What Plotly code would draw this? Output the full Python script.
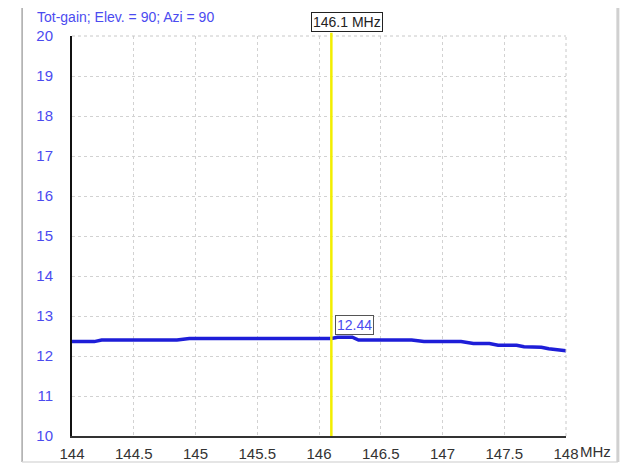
import plotly.graph_objects as go

# Data
freq_mhz = [144.0, 144.18, 144.24, 144.85, 144.95, 146.1, 146.15, 146.27, 146.32,
            146.75, 146.85, 147.15, 147.25, 147.38, 147.45, 147.6, 147.66, 147.8, 147.86, 148.0]
gain_db = [12.36, 12.36, 12.40, 12.40, 12.44, 12.44, 12.47, 12.47, 12.40,
           12.40, 12.36, 12.36, 12.31, 12.31, 12.27, 12.27, 12.23, 12.22, 12.18, 12.13]
x_ticks = [144, 144.5, 145, 145.5, 146, 146.5, 147, 147.5, 148]
x_tick_labels = ["144", "144.5", "145", "145.5", "146", "146.5", "147", "147.5", "148"]
y_ticks = [10, 11, 12, 13, 14, 15, 16, 17, 18, 19, 20]
marker_freq = 146.1
marker_gain = 12.44
title_text = "Tot-gain; Elev. = 90; Azi = 90"

FONT = "Liberation Sans"
BLUE_TXT = "#4b4bf0"

fig = go.Figure()
fig.add_trace(go.Scatter(x=freq_mhz, y=gain_db, mode="lines",
                         line=dict(color="#1e1ed8", width=3.5), hoverinfo="skip"))

fig.update_xaxes(range=[144, 148], tickvals=x_ticks, ticktext=x_tick_labels,
                 showgrid=True, gridcolor="#d2d2d2", griddash="dot", gridwidth=1,
                 showline=True, linecolor="#333333", linewidth=2, zeroline=False,
                 ticks="", ticklabelstandoff=3, automargin=False,
                 tickfont=dict(family=FONT, size=15, color="#333333"),
                 fixedrange=True)
fig.update_yaxes(range=[10, 20], tickvals=y_ticks,
                 showgrid=True, gridcolor="#d2d2d2", griddash="dot", gridwidth=1,
                 showline=True, linecolor="#111111", linewidth=2, zeroline=False,
                 ticks="", ticklabelstandoff=14, automargin=False,
                 tickfont=dict(family=FONT, size=15, color=BLUE_TXT), fixedrange=True)

# right & top dotted borders of the grid
fig.add_shape(type="line", xref="paper", yref="paper", x0=1, x1=1, y0=0, y1=1,
              line=dict(color="#c8c8c8", width=1, dash="dot"))
fig.add_shape(type="line", xref="paper", yref="paper", x0=0, x1=1, y0=1, y1=1,
              line=dict(color="#c8c8c8", width=1, dash="dot"))

# yellow marker line
fig.add_shape(type="line", xref="x", yref="paper", x0=marker_freq, x1=marker_freq,
              y0=0, y1=1.008, line=dict(color="#f2ee00", width=2.5), layer="above")

# outer frame lines
fig.add_shape(type="line", xref="paper", yref="paper", x0=-0.101, x1=-0.101, y0=-0.065, y1=1.08,
              line=dict(color="#a8a8a8", width=1.5))
fig.add_shape(type="line", xref="paper", yref="paper", x0=-0.101, x1=1.105, y0=-0.065, y1=-0.065,
              line=dict(color="#dcdcdc", width=1.5))
fig.add_shape(type="line", xref="paper", yref="paper", x0=1.105, x1=1.105, y0=-0.065, y1=1.08,
              line=dict(color="#d0d0d0", width=3))

annotations = [
    dict(text=title_text, xref="paper", yref="paper", x=-0.075, y=1.048,
         xanchor="left", yanchor="middle", showarrow=False,
         font=dict(family=FONT, size=14, color=BLUE_TXT)),
    dict(text=f"{marker_freq} MHz", xref="x", yref="paper", x=marker_freq, y=1.035,
         xanchor="center", yanchor="middle", xshift=16, showarrow=False,
         bgcolor="white", bordercolor="#222222", borderwidth=1, borderpad=1,
         font=dict(family=FONT, size=14, color="#222222")),
    dict(text=f"{marker_gain:.2f}", xref="x", yref="y", x=marker_freq, y=marker_gain,
         xanchor="left", yanchor="bottom", xshift=4, yshift=3, showarrow=False,
         bgcolor="white", bordercolor="#555555", borderwidth=1, borderpad=1,
         font=dict(family=FONT, size=14, color=BLUE_TXT)),
    dict(text="MHz", xref="paper", yref="paper", x=1, y=0, xanchor="left", yanchor="top",
         xshift=12, yshift=-5, showarrow=False,
         font=dict(family=FONT, size=15, color="#333333")),
]

fig.update_layout(width=626, height=458, margin=dict(l=64, r=68, t=28, b=30),
                  paper_bgcolor="white", plot_bgcolor="white", showlegend=False,
                  annotations=annotations)

fig.write_html("out.html")
